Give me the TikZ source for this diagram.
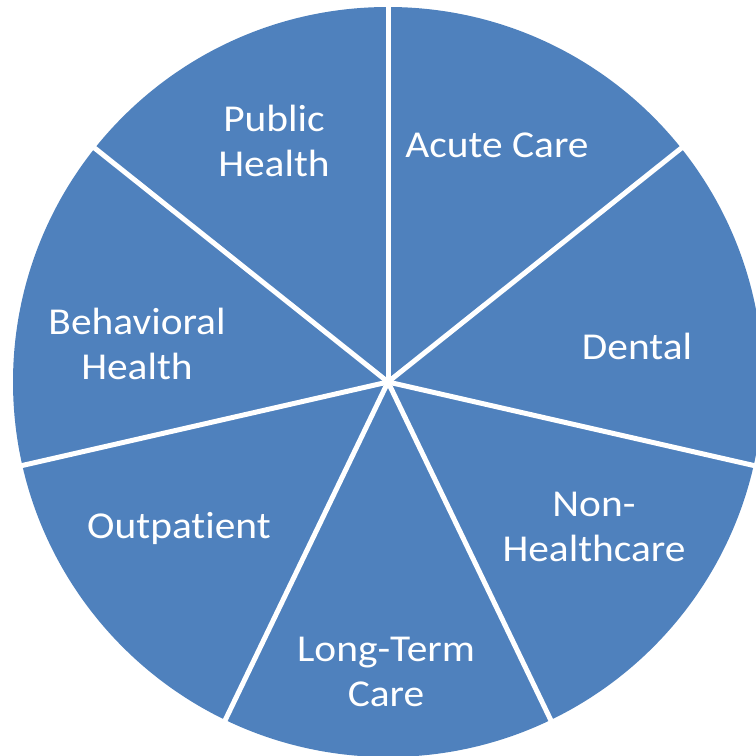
\documentclass[tikz,border=0pt]{standalone}
\usepackage{fontspec}
\setmainfont{Carlito}[Ligatures=NoCommon, FakeStretch=1.09]
\usetikzlibrary{calc}
\definecolor{pieblue}{HTML}{4F81BD}

\begin{document}
\begin{tikzpicture}
		[x=1pt, y=1pt, inner sep=0pt,
		slice/.style		= {fill=pieblue},
		cut/.style			= {draw=white, line width=5pt},
		sectortext/.style	= {white, align=center, font=\fontsize{38}{45}\selectfont}]
		
		\useasboundingbox (0,0) rectangle (756,756);
		\clip (0,0) rectangle (756,756);
		
		\coordinate (c) at (388,374);
		\fill [slice] (c) circle (375);
		
		% borders between the seven slices
		\foreach \a [count=\i] in {90,38.57,-12.86,-64.29,-115.71,-167.14,141.43}
			\coordinate (e\i) at ($(c)+(\a:380)$);
		\foreach \i in {1,...,7}
			\draw [cut] (c) -- (e\i);
		
		\node [sectortext]	at (274,756-141)	(public)	{Public\\Health}		;
		\node [sectortext]	at (497,756-145)	(acute)		{Acute Care}			;
		\node [sectortext]	at (637,756-346)	(dental)	{Dental}				;
		\node [sectortext]	at (594,756-527)	(nonhc)		{Non-\\Healthcare}		;
		\node [sectortext]	at (386,756-672)	(ltc)		{Long-Term\\Care}		;
		\node [sectortext]	at (179,756-528)	(outp)		{Outpatient}			;
		\node [sectortext]	at (137,756-344)	(behav)		{Behavioral\\Health}	;
		\end{tikzpicture}
\end{document}
